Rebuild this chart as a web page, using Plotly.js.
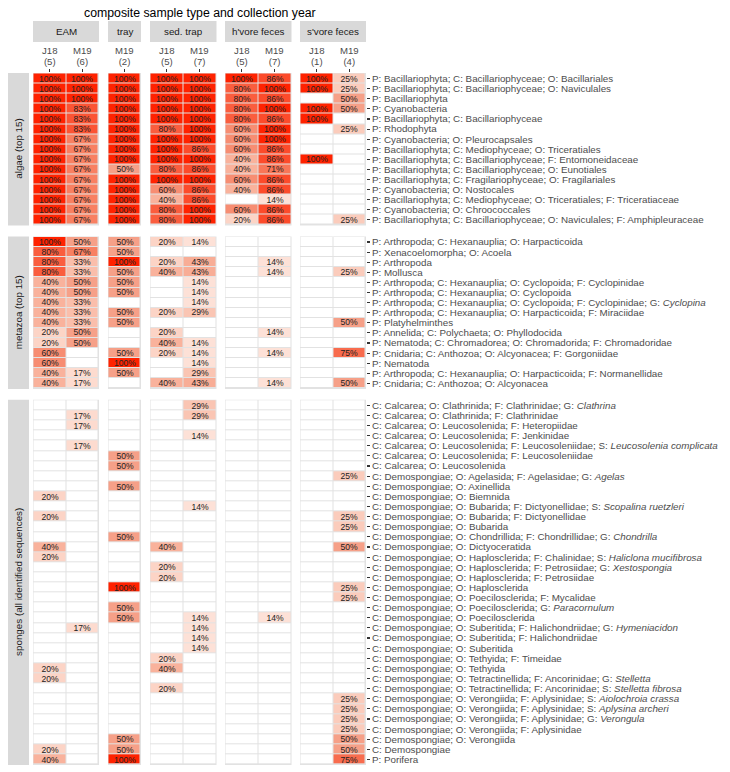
<!DOCTYPE html>
<html>
<head>
<meta charset="utf-8">
<script src="https://cdn.plot.ly/plotly-3.0.1.min.js"></script>
<style>html,body{margin:0;padding:0;background:#fff;}#chart{width:730px;height:772px;}</style>
</head>
<body>
<div id="chart"></div>
<script>
// ---------------- DATA ----------------
const groupNames = ['EAM', 'tray', 'sed. trap', "h'vore feces", "s'vore feces"];
const groupYears = [['J18', 'M19'], ['M19'], ['J18', 'M19'], ['J18', 'M19'], ['J18', 'M19']];
const groupN = [[5, 6], [2], [5, 7], [5, 7], [1, 4]];
const panelNames = ['algae (top 15)', 'metazoa (top 15)', 'sponges (all identified sequences)'];

// columns: EAM J18, EAM M19, tray M19, sed J18, sed M19, h'vore J18, h'vore M19, s'vore J18, s'vore M19
const algaeLabels = [
  'P: Bacillariophyta; C: Bacillariophyceae; O: Bacillariales',
  'P: Bacillariophyta; C: Bacillariophyceae; O: Naviculales',
  'P: Bacillariophyta',
  'P: Cyanobacteria',
  'P: Bacillariophyta; C: Bacillariophyceae',
  'P: Rhodophyta',
  'P: Cyanobacteria; O: Pleurocapsales',
  'P: Bacillariophyta; C: Mediophyceae; O: Triceratiales',
  'P: Bacillariophyta; C: Bacillariophyceae; F: Entomoneidaceae',
  'P: Bacillariophyta; C: Bacillariophyceae; O: Eunotiales',
  'P: Bacillariophyta; C: Fragilariophyceae; O: Fragilariales',
  'P: Cyanobacteria; O: Nostocales',
  'P: Bacillariophyta; C: Mediophyceae; O: Triceratiales; F: Triceratiaceae',
  'P: Cyanobacteria; O: Chroococcales',
  'P: Bacillariophyta; C: Bacillariophyceae; O: Naviculales; F: Amphipleuraceae'
];
const algaeValues = [
  [100, 100, 100, 100, 100, 100, 86, 100, 25],
  [100, 100, 100, 100, 100, 80, 100, 100, 25],
  [100, 100, 100, 100, 100, 80, 86, 0, 50],
  [100, 83, 100, 100, 100, 80, 100, 100, 50],
  [100, 83, 100, 100, 100, 80, 86, 100, 0],
  [100, 83, 100, 80, 100, 60, 100, 0, 25],
  [100, 67, 100, 100, 100, 60, 100, 0, 0],
  [100, 67, 100, 100, 86, 60, 86, 0, 0],
  [100, 67, 100, 100, 100, 40, 86, 100, 0],
  [100, 67, 50, 80, 86, 40, 71, 0, 0],
  [100, 67, 100, 100, 100, 60, 86, 0, 0],
  [100, 67, 100, 60, 86, 40, 86, 0, 0],
  [100, 67, 100, 40, 86, 0, 14, 0, 0],
  [100, 67, 100, 80, 100, 60, 86, 0, 0],
  [100, 67, 100, 80, 100, 20, 86, 0, 25]
];

const metazoaLabels = [
  'P: Arthropoda; C: Hexanauplia; O: Harpacticoida',
  'P: Xenacoelomorpha; O: Acoela',
  'P: Arthropoda',
  'P: Mollusca',
  'P: Arthropoda; C: Hexanauplia; O: Cyclopoida; F: Cyclopinidae',
  'P: Arthropoda; C: Hexanauplia; O: Cyclopoida',
  'P: Arthropoda; C: Hexanauplia; O: Cyclopoida; F: Cyclopinidae; G: <i>Cyclopina</i>',
  'P: Arthropoda; C: Hexanauplia; O: Harpacticoida; F: Miraciidae',
  'P: Platyhelminthes',
  'P: Annelida; C: Polychaeta; O: Phyllodocida',
  'P: Nematoda; C: Chromadorea; O: Chromadorida; F: Chromadoridae',
  'P: Cnidaria; C: Anthozoa; O: Alcyonacea; F: Gorgoniidae',
  'P: Nematoda',
  'P: Arthropoda; C: Hexanauplia; O: Harpacticoida; F: Normanellidae',
  'P: Cnidaria; C: Anthozoa; O: Alcyonacea'
];
const metazoaValues = [
  [100, 50, 50, 20, 14, 0, 0, 0, 0],
  [80, 67, 50, 0, 0, 0, 0, 0, 0],
  [80, 33, 100, 20, 43, 0, 14, 0, 0],
  [80, 33, 50, 40, 43, 0, 14, 0, 25],
  [40, 50, 50, 0, 14, 0, 0, 0, 0],
  [40, 50, 50, 0, 14, 0, 0, 0, 0],
  [40, 33, 0, 0, 14, 0, 0, 0, 0],
  [40, 33, 50, 20, 29, 0, 0, 0, 0],
  [40, 33, 50, 0, 0, 0, 0, 0, 50],
  [20, 50, 0, 20, 0, 0, 14, 0, 0],
  [20, 50, 0, 40, 14, 0, 0, 0, 0],
  [60, 0, 50, 20, 14, 0, 14, 0, 75],
  [60, 0, 100, 0, 14, 0, 0, 0, 0],
  [40, 17, 50, 0, 29, 0, 0, 0, 0],
  [40, 17, 0, 40, 43, 0, 14, 0, 50]
];

const spongeLabels = [
  'C: Calcarea; O: Clathrinida; F: Clathrinidae; G: <i>Clathrina</i>',
  'C: Calcarea; O: Clathrinida; F: Clathrinidae',
  'C: Calcarea; O: Leucosolenida; F: Heteropiidae',
  'C: Calcarea; O: Leucosolenida; F: Jenkinidae',
  'C: Calcarea; O: Leucosolenida; F: Leucosoleniidae; S: <i>Leucosolenia complicata</i>',
  'C: Calcarea; O: Leucosolenida; F: Leucosoleniidae',
  'C: Calcarea; O: Leucosolenida',
  'C: Demospongiae; O: Agelasida; F: Agelasidae; G: <i>Agelas</i>',
  'C: Demospongiae; O: Axinellida',
  'C: Demospongiae; O: Biemnida',
  'C: Demospongiae; O: Bubarida; F: Dictyonellidae; S: <i>Scopalina ruetzleri</i>',
  'C: Demospongiae; O: Bubarida; F: Dictyonellidae',
  'C: Demospongiae; O: Bubarida',
  'C: Demospongiae; O: Chondrillida; F: Chondrillidae; G: <i>Chondrilla</i>',
  'C: Demospongiae; O: Dictyoceratida',
  'C: Demospongiae; O: Haplosclerida; F: Chalinidae; S: <i>Haliclona mucifibrosa</i>',
  'C: Demospongiae; O: Haplosclerida; F: Petrosiidae; G: <i>Xestospongia</i>',
  'C: Demospongiae; O: Haplosclerida; F: Petrosiidae',
  'C: Demospongiae; O: Haplosclerida',
  'C: Demospongiae; O: Poecilosclerida; F: Mycalidae',
  'C: Demospongiae; O: Poecilosclerida; G: <i>Paracornulum</i>',
  'C: Demospongiae; O: Poecilosclerida',
  'C: Demospongiae; O: Suberitida; F: Halichondriidae; G: <i>Hymeniacidon</i>',
  'C: Demospongiae; O: Suberitida; F: Halichondriidae',
  'C: Demospongiae; O: Suberitida',
  'C: Demospongiae; O: Tethyida; F: Timeidae',
  'C: Demospongiae; O: Tethyida',
  'C: Demospongiae; O: Tetractinellida; F: Ancorinidae; G: <i>Stelletta</i>',
  'C: Demospongiae; O: Tetractinellida; F: Ancorinidae; S: <i>Stelletta fibrosa</i>',
  'C: Demospongiae; O: Verongiida; F: Aplysinidae; S: <i>Aiolochroia crassa</i>',
  'C: Demospongiae; O: Verongiida; F: Aplysinidae; S: <i>Aplysina archeri</i>',
  'C: Demospongiae; O: Verongiida; F: Aplysinidae; G: <i>Verongula</i>',
  'C: Demospongiae; O: Verongiida; F: Aplysinidae',
  'C: Demospongiae; O: Verongiida',
  'C: Demospongiae',
  'P: Porifera'
];
const spongeValues = [
  [0, 0, 0, 0, 29, 0, 0, 0, 0],
  [0, 17, 0, 0, 29, 0, 0, 0, 0],
  [0, 17, 0, 0, 0, 0, 0, 0, 0],
  [0, 0, 0, 0, 14, 0, 0, 0, 0],
  [0, 17, 0, 0, 0, 0, 0, 0, 0],
  [0, 0, 50, 0, 0, 0, 0, 0, 0],
  [0, 0, 50, 0, 0, 0, 0, 0, 0],
  [0, 0, 0, 0, 0, 0, 0, 0, 25],
  [0, 0, 50, 0, 0, 0, 0, 0, 0],
  [20, 0, 0, 0, 0, 0, 0, 0, 0],
  [0, 0, 0, 0, 14, 0, 0, 0, 0],
  [20, 0, 0, 0, 0, 0, 0, 0, 25],
  [0, 0, 0, 0, 0, 0, 0, 0, 25],
  [0, 0, 50, 0, 0, 0, 0, 0, 0],
  [40, 0, 0, 40, 0, 0, 0, 0, 50],
  [20, 0, 0, 0, 0, 0, 0, 0, 0],
  [0, 0, 0, 20, 0, 0, 0, 0, 0],
  [0, 0, 0, 20, 0, 0, 0, 0, 0],
  [0, 0, 100, 0, 0, 0, 0, 0, 25],
  [0, 0, 0, 0, 0, 0, 0, 0, 25],
  [0, 0, 50, 0, 0, 0, 0, 0, 0],
  [0, 0, 50, 0, 14, 0, 14, 0, 0],
  [0, 17, 0, 0, 14, 0, 0, 0, 0],
  [0, 0, 0, 0, 14, 0, 0, 0, 0],
  [0, 0, 0, 0, 14, 0, 0, 0, 0],
  [0, 0, 0, 20, 0, 0, 0, 0, 0],
  [20, 0, 0, 40, 0, 0, 0, 0, 0],
  [20, 0, 0, 0, 0, 0, 0, 0, 0],
  [0, 0, 0, 20, 0, 0, 0, 0, 0],
  [0, 0, 0, 0, 0, 0, 0, 0, 25],
  [0, 0, 0, 0, 0, 0, 0, 0, 25],
  [0, 0, 0, 0, 0, 0, 0, 0, 25],
  [0, 0, 0, 0, 0, 0, 0, 0, 25],
  [0, 0, 50, 0, 0, 0, 0, 0, 50],
  [20, 0, 50, 0, 0, 0, 0, 0, 50],
  [40, 0, 100, 0, 0, 0, 0, 0, 75]
];

// ---------------- LAYOUT GEOMETRY ----------------
const W = 730, Hh = 772;
const L = 33, R = 366, T = 73, B = 765.5;
const PW = R - L, PH = B - T;
const colPx = [[33, 99], [108, 141], [150, 216.5], [225, 291.5], [300, 366]];
const rowPx = [[73, 225.6], [236.6, 389.2], [400, 765.5]];
const px2x = p => (p - L) / PW;
const py2y = p => 1 - (p - T) / PH;

const panels = [
  {labels: algaeLabels, values: algaeValues},
  {labels: metazoaLabels, values: metazoaValues},
  {labels: spongeLabels, values: spongeValues}
];

const colorscale = [
  [0, '#ffffff'], [0.14, '#fde1d7'], [0.2, '#fcd4c6'], [0.43, '#f8ad96'],
  [0.5, '#f6a088'], [0.67, '#f88062'], [0.75, '#f86c4e'], [0.83, '#fb5434'],
  [0.86, '#fc4b2b'], [1, '#ff2200']
];

const FONT = 'Liberation Sans, Arial, Helvetica, sans-serif';
const traces = [];
const layout = {
  width: W, height: Hh,
  margin: {l: L, r: W - R, t: T, b: Hh - B, pad: 0},
  paper_bgcolor: '#ffffff',
  plot_bgcolor: '#e2e2e2',
  showlegend: false,
  font: {family: FONT, color: '#4d4d4d'},
  shapes: [], annotations: []
};

const colStart = [];
let acc = 0;
groupYears.forEach(g => { colStart.push(acc); acc += g.length; });

groupYears.forEach((yrs, gi) => {
  const axName = gi === 0 ? 'xaxis' : 'xaxis' + (gi + 1);
  const axRef = gi === 0 ? 'x' : 'x' + (gi + 1);
  const n = yrs.length;
  const eps = 1 / ((colPx[gi][1] - colPx[gi][0]) / n) * 0.5;
  layout[axName] = {
    domain: [px2x(colPx[gi][0]), px2x(colPx[gi][1])],
    anchor: 'y', side: 'top',
    range: [-0.5 - eps, n - 0.5 + eps],
    tickmode: 'array',
    tickvals: yrs.map((_, i) => i),
    ticktext: yrs.map((y, i) => '(' + groupN[gi][i] + ')'),
    ticks: 'outside', ticklen: 3, tickwidth: 1.1, tickcolor: '#333333',
    tickfont: {size: 9.6, color: '#4d4d4d', family: FONT},
    showgrid: false, zeroline: false, showline: false, fixedrange: true, automargin: false
  };
  // year line of the column label
  yrs.forEach((y, i) => {
    layout.annotations.push({xref: axRef, yref: 'paper', x: i, y: py2y(50.5),
      text: y, showarrow: false, xanchor: 'center', yanchor: 'middle',
      font: {size: 9.6, color: '#4d4d4d', family: FONT}});
  });
  // strip
  layout.shapes.push({type: 'rect', xref: 'paper', yref: 'paper',
    x0: px2x(colPx[gi][0]), x1: px2x(colPx[gi][1]), y0: py2y(42), y1: py2y(21),
    fillcolor: '#d9d9d9', line: {width: 0}, layer: 'below'});
  layout.annotations.push({xref: 'paper', yref: 'paper',
    x: (px2x(colPx[gi][0]) + px2x(colPx[gi][1])) / 2, y: py2y(31.5),
    text: groupNames[gi], showarrow: false, xanchor: 'center', yanchor: 'middle',
    font: {size: 9.8, color: '#1a1a1a', family: FONT}});
});

panels.forEach((p, pi) => {
  const ayName = pi === 0 ? 'yaxis' : 'yaxis' + (pi + 1);
  const nr = p.labels.length;
  const eps = 1 / ((rowPx[pi][1] - rowPx[pi][0]) / nr) * 0.5;
  layout[ayName] = {
    domain: [py2y(rowPx[pi][1]), py2y(rowPx[pi][0])],
    anchor: 'x5', side: 'right', type: 'category',
    categoryorder: 'array', categoryarray: p.labels,
    range: [nr - 0.5 + eps, -0.5 - eps],
    tickmode: 'array', tickvals: p.labels, ticktext: p.labels,
    ticks: 'outside', ticklen: 3, tickwidth: 1.1, tickcolor: '#333333',
    tickfont: {size: 9.8, color: '#4d4d4d', family: FONT},
    showgrid: false, zeroline: false, showline: false, fixedrange: true, automargin: false
  };
  // left strip
  layout.shapes.push({type: 'rect', xref: 'paper', yref: 'paper',
    x0: px2x(8), x1: px2x(29), y0: py2y(rowPx[pi][1]), y1: py2y(rowPx[pi][0]),
    fillcolor: '#d9d9d9', line: {width: 0}, layer: 'below'});
  layout.annotations.push({xref: 'paper', yref: 'paper',
    x: px2x(18.5), y: (py2y(rowPx[pi][0]) + py2y(rowPx[pi][1])) / 2,
    text: panelNames[pi], showarrow: false, textangle: -90,
    xanchor: 'center', yanchor: 'middle',
    font: {size: 9.8, color: '#1a1a1a', family: FONT}});

  groupYears.forEach((yrs, gi) => {
    const cs = colStart[gi];
    const z = p.values.map(r => r.slice(cs, cs + yrs.length));
    const txt = z.map(r => r.map(v => v > 0 ? v + '%' : ''));
    traces.push({
      type: 'heatmap',
      xaxis: gi === 0 ? 'x' : 'x' + (gi + 1),
      yaxis: pi === 0 ? 'y' : 'y' + (pi + 1),
      x: yrs.map((_, i) => i), y: p.labels, z: z,
      text: txt, texttemplate: '%{text}',
      textfont: {size: 8.6, color: '#222222', family: FONT},
      colorscale: colorscale, zmin: 0, zmax: 100, showscale: false,
      xgap: 1, ygap: 1, hoverinfo: 'skip'
    });
  });
});

layout.annotations.push({xref: 'paper', yref: 'paper', x: 0.5, y: py2y(13),
  text: 'composite sample type and collection year', showarrow: false,
  xanchor: 'center', yanchor: 'middle',
  font: {size: 12.3, color: '#000000', family: FONT}});

Plotly.newPlot('chart', traces, layout, {displayModeBar: false, staticPlot: true});
</script>
</body>
</html>
